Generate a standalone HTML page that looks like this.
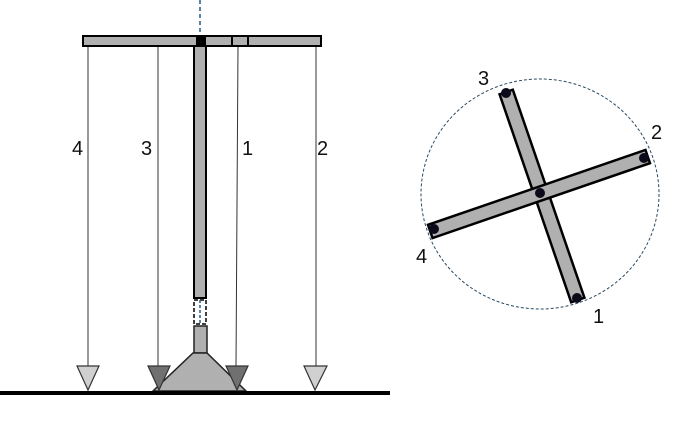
<!DOCTYPE html>
<html><head><style>body{margin:0;background:#fff}svg{display:block}text{font-family:"Liberation Sans",sans-serif;font-size:20px;fill:#111}</style></head>
<body>
<svg width="682" height="422" viewBox="0 0 682 422">
<g stroke="#333" stroke-width="1">
<line x1="88" y1="46" x2="88" y2="366"/>
<line x1="158" y1="46" x2="158" y2="366"/>
<line x1="238" y1="46" x2="236" y2="366"/>
<line x1="316" y1="46" x2="316" y2="366"/>
</g>
<rect x="194" y="46" width="12" height="252" fill="#b0b0b0" stroke="#000" stroke-width="2"/>
<rect x="194" y="300" width="12" height="24" fill="#fff" stroke="#000" stroke-width="1.5" stroke-dasharray="4,2"/>
<line x1="200" y1="300" x2="200" y2="324" stroke="#1f5f8a" stroke-width="1.5" stroke-dasharray="3,2"/>
<rect x="194" y="326" width="13" height="27" fill="#b0b0b0" stroke="#222" stroke-width="1.5"/>
<polygon points="193,353 207,353 246,391 153,391" fill="#b0b0b0" stroke="#222" stroke-width="1.5"/>
<rect x="83" y="36" width="238" height="10" fill="#b0b0b0" stroke="#000" stroke-width="2"/>
<rect x="196" y="36" width="10" height="10" fill="#000"/>
<line x1="232" y1="36" x2="232" y2="46" stroke="#000" stroke-width="2"/>
<line x1="248" y1="36" x2="248" y2="46" stroke="#000" stroke-width="2"/>
<line x1="200" y1="0" x2="200" y2="35" stroke="#1f5f8a" stroke-width="1.5" stroke-dasharray="4,3"/>
<g stroke="#333" stroke-width="1.2">
<polygon points="77,366 99,366 88,390" fill="#d0d0d0"/>
<polygon points="148,366 170,366 159,390" fill="#707070"/>
<polygon points="226,366 248,366 237,390" fill="#707070"/>
<polygon points="304,366 327,366 315,390" fill="#d0d0d0"/>
</g>
<rect x="0" y="391" width="390" height="4" fill="#000"/>
<text x="72" y="155">4</text><text x="141" y="155">3</text><text x="242" y="155">1</text><text x="317" y="155">2</text>
<ellipse cx="540" cy="194" rx="119" ry="115" fill="none" stroke="#2a4a60" stroke-width="1" stroke-dasharray="3,2"/>
<g transform="translate(542,196) rotate(-19)">
<rect x="-7" y="-110" width="14" height="220" fill="#b0b0b0" stroke="#000" stroke-width="2.5"/>
</g>
<g transform="translate(539,194) rotate(-19)">
<rect x="-115" y="-7" width="230" height="14" fill="#b0b0b0" stroke="#000" stroke-width="2.5"/>
</g>
<g fill="#0a0a1a">
<circle cx="506" cy="93" r="5"/><circle cx="577" cy="298" r="5"/>
<circle cx="434" cy="229" r="5"/><circle cx="644" cy="158" r="5"/>
<circle cx="540" cy="193" r="5"/>
</g>
<text x="478" y="85">3</text><text x="651" y="139">2</text><text x="416" y="263">4</text><text x="593" y="323">1</text>
</svg>
</body></html>
